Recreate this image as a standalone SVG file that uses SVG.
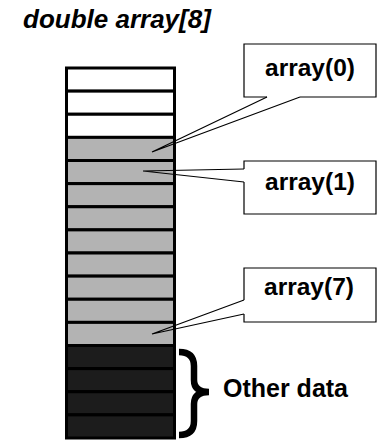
<svg xmlns="http://www.w3.org/2000/svg" width="377" height="441" viewBox="0 0 377 441">
<style>
.cell{stroke:#000;stroke-width:3}
.w{fill:#fff}.g{fill:#b3b3b3}.d{fill:#1c1c1c}
.box{fill:#fff;stroke:#000;stroke-width:1.2}
.lbl{font-family:"Liberation Sans",Arial,sans-serif;font-weight:bold;font-size:24.5px;fill:#000}
.ptr{stroke:#000;stroke-width:1.2;fill:none}
</style>
<rect width="377" height="441" fill="#fff"/>
<text id="title" x="23" y="28" class="lbl" style="font-style:italic;font-size:26px">double array[8]</text>
<g id="stack">
<rect class="cell w" x="66.5" y="68" width="108" height="23.125"/>
<rect class="cell w" x="66.5" y="91.125" width="108" height="23.125"/>
<rect class="cell w" x="66.5" y="114.25" width="108" height="23.125"/>
<rect class="cell g" x="66.5" y="137.375" width="108" height="23.125"/>
<rect class="cell g" x="66.5" y="160.5" width="108" height="23.125"/>
<rect class="cell g" x="66.5" y="183.625" width="108" height="23.125"/>
<rect class="cell g" x="66.5" y="206.75" width="108" height="23.125"/>
<rect class="cell g" x="66.5" y="229.875" width="108" height="23.125"/>
<rect class="cell g" x="66.5" y="253" width="108" height="23.125"/>
<rect class="cell g" x="66.5" y="276.125" width="108" height="23.125"/>
<rect class="cell g" x="66.5" y="299.25" width="108" height="23.125"/>
<rect class="cell g" x="66.5" y="322.375" width="108" height="23.125"/>
<rect class="cell d" x="66.5" y="345.5" width="108" height="23.125"/>
<rect class="cell d" x="66.5" y="368.625" width="108" height="23.125"/>
<rect class="cell d" x="66.5" y="391.75" width="108" height="23.125"/>
<rect class="cell d" x="66.5" y="414.875" width="108" height="23.125"/>
</g>
<g id="label0">
<path class="box" d="M267 97 H244 V44 H376 V97 H300"/>
<text class="lbl" x="310" y="76" text-anchor="middle">array(0)</text>
</g>
<g id="label1">
<path class="box" d="M244 169 V161 H376 V214 H244 V182"/>
<text class="lbl" x="310" y="190" text-anchor="middle">array(1)</text>
</g>
<g id="label7">
<path class="box" d="M244 300 V268 H376 V322 H244 V314"/>
<text class="lbl" x="309" y="295" text-anchor="middle">array(7)</text>
</g>
<g id="other">
<path d="M179 352 Q194 352 194 366 V380 Q194 392 209 392 Q194 392 194 404 V421 Q194 435 179 435" fill="none" stroke="#000" stroke-width="6.5"/>
<text class="lbl" x="223" y="397" style="font-size:25px">Other data</text>
</g>
<g id="connectors">
<path class="ptr" d="M267 97 L152 152 L300 97"/>
<path class="ptr" d="M244 169 L143 171 L244 182"/>
<path class="ptr" d="M244 300 L152 334 L244 314"/>
</g>
</svg>
